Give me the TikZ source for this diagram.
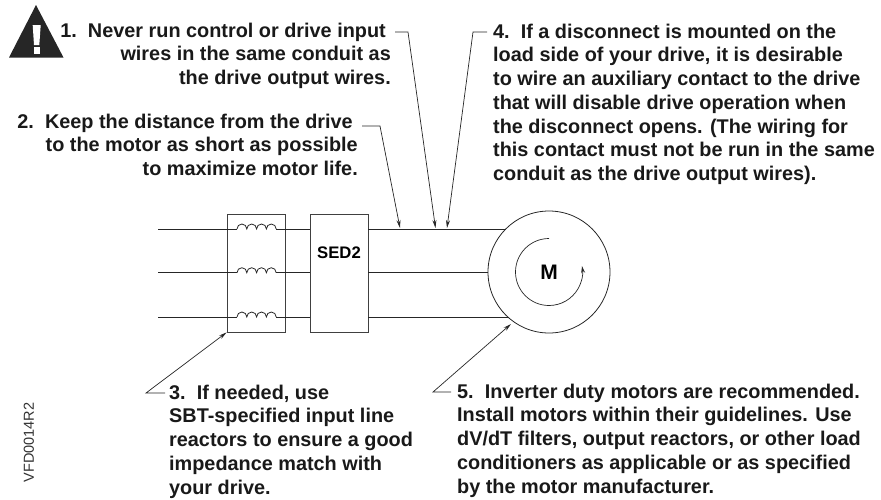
\documentclass[tikz,border=0pt]{standalone}
\usepackage{fontspec}
\setmainfont{Liberation Sans}
\usetikzlibrary{arrows.meta}
\tikzset{
 wire/.style={line width=0.8pt,black!85},
 boxd/.style={draw=black!75,line width=0.9pt},
 lead/.style={line width=0.7pt,black!85},
 leada/.style={lead,-{Stealth[length=8pt,width=4pt]}},
 note/.style={inner sep=0pt,text=black!90,font=\fontsize{19.85}{23.75}\selectfont\bfseries,align=left},
 noter/.style={note,align=right},
}
\newcommand{\coilat}[2]{\draw[wire] (#1,#2) arc[start angle=180,end angle=0,x radius=4.9pt,y radius=5pt] arc[start angle=180,end angle=0,x radius=4.9pt,y radius=5pt] arc[start angle=180,end angle=0,x radius=4.9pt,y radius=5pt] arc[start angle=180,end angle=0,x radius=4.9pt,y radius=5pt];}
\begin{document}
\begin{tikzpicture}[x=1pt,y=-1pt]
\useasboundingbox (0,0) rectangle (881,499);
% warning triangle
\fill[black!85] (36,5) -- (63.5,57.5) -- (9,57.5) -- cycle;
\fill[white] (32.7,25) -- (40.7,25) -- (39.3,45) -- (34,45) -- cycle;
\fill[white] (33.5,47) rectangle (39.5,53.5);
% notes
\node[noter,anchor=north east] (n1) at (391,22.5) {1.\ \ Never run control or drive input\hspace*{5pt}\\wires in the same conduit as\hspace*{5pt}\\the drive output wires.};
\node[noter,anchor=north east] (n2) at (358,113.5) {2.\ \ Keep the distance from the drive\hspace*{5pt}\\to the motor as short as possible\hspace*{5pt}\\to maximize motor life.};
\node[note,anchor=north west] (n4) at (493,23.5) {4.\ \ If a disconnect is mounted on the\\load side of your drive, it is desirable\\to wire an auxiliary contact to the drive\\that will disable drive operation when\\the disconnect opens. (The wiring for\\this contact must not be run in the same\\conduit as the drive output wires).};
\node[note,anchor=north west] (n3) at (169,384.5) {3.\ \ If needed, use\\SBT-specified input line\\reactors to ensure a good\\impedance match with\\your drive.};
\node[note,anchor=north west] (n5) at (457,383.5) {5.\ \ Inverter duty motors are recommended.\\Install motors within their guidelines. Use\\dV/dT filters, output reactors, or other load\\conditioners as applicable or as specified\\by the motor manufacturer.};
\node[rotate=90,inner sep=0pt,text=black!80,font=\fontsize{14.5}{16}\selectfont] (vfd) at (29,442.5) {VFD0014R2};
% motor
\node[circle,draw=black!85,line width=0.8pt,minimum size=122pt,inner sep=0pt] (motor) at (549,272) {};
\node[inner sep=0pt,font=\fontsize{21}{22}\selectfont\bfseries] (mlab) at (549,272) {M};
\draw[lead,-{Stealth[length=7pt,width=4pt]}] (549,238.5) arc[start angle=90,end angle=370,radius=33.5pt];
% boxes
\node[boxd,minimum width=58pt,minimum height=118pt,inner sep=0pt] (reactor) at (256,273) {};
\node[boxd,minimum width=58pt,minimum height=118pt,inner sep=0pt] (sed) at (339,273) {};
\node[inner sep=0pt,font=\fontsize{16.7}{18}\selectfont\bfseries] (sedlab) at (339,253) {SED2};
% wires
\foreach \yy/\xe in {229/505.7,272.7/488,317/508}{
  \draw[wire] (158,\yy) -- (237,\yy);
  \coilat{237}{\yy}
  \draw[wire] (276.2,\yy) -- (sed.west |- 0,\yy);
  \draw[wire] (sed.east |- 0,\yy) -- (\xe,\yy);
}
% leaders
\coordinate (t1a) at (395,32); \coordinate (t1b) at (408,32); \coordinate (p1) at (435.5,228);
\coordinate (t2a) at (362,126); \coordinate (t2b) at (380,126); \coordinate (p2) at (400,228);
\coordinate (t4a) at (487,32); \coordinate (t4b) at (473,32); \coordinate (p4) at (447,228);
\coordinate (t3a) at (165,393); \coordinate (t3b) at (146,393);
\coordinate (t5a) at (451,392); \coordinate (t5b) at (433,392); \coordinate (p5) at (511,324);
\draw[leada] (t1a) -- (t1b) -- (p1);
\draw[leada] (t2a) -- (t2b) -- (p2);
\draw[leada] (t4a) -- (t4b) -- (p4);
\draw[leada] (t3a) -- (t3b) -- (reactor.south west);
\draw[leada] (t5a) -- (t5b) -- (p5);
\end{tikzpicture}
\end{document}
